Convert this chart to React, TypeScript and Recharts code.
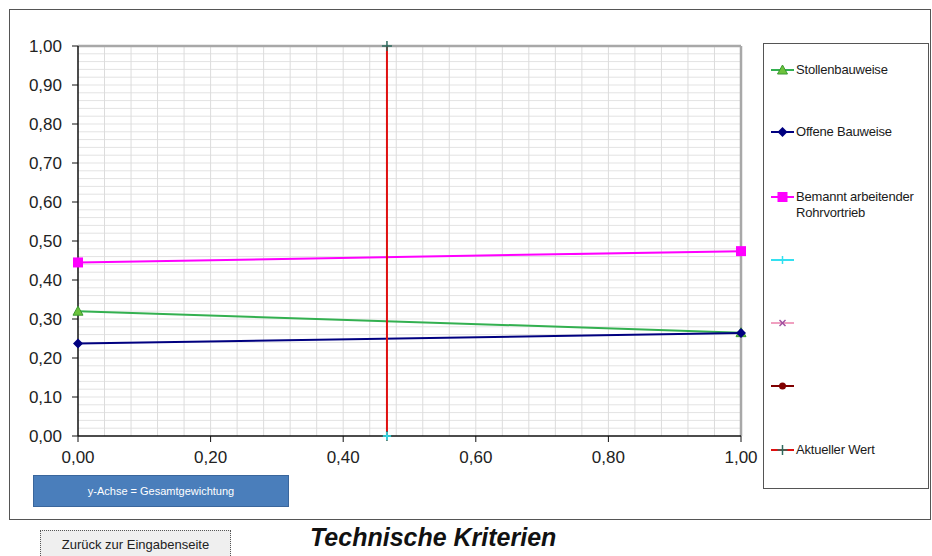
import React from "react";
import { Line, LineChart, ReferenceLine, XAxis, YAxis } from "recharts";

// Werte
const stollen = [
  { x: 0, y: 0.32 },
  { x: 1, y: 0.265 },
];
const offene = [
  { x: 0, y: 0.237 },
  { x: 1, y: 0.264 },
];
const bemannt = [
  { x: 0, y: 0.445 },
  { x: 1, y: 0.474 },
];
const hilfsPunkt = [{ x: 0.466, y: 0 }];
const aktuell = [
  { x: 0.466, y: 0 },
  { x: 0.466, y: 1 },
];

const xTicks = [0, 0.2, 0.4, 0.6, 0.8, 1];
const yTicks = [0, 0.1, 0.2, 0.3, 0.4, 0.5, 0.6, 0.7, 0.8, 0.9, 1];
const xMinor = [
  0.04, 0.08, 0.12, 0.16, 0.2, 0.24, 0.28, 0.32, 0.36, 0.4, 0.44, 0.48,
  0.52, 0.56, 0.6, 0.64, 0.68, 0.72, 0.76, 0.8, 0.84, 0.88, 0.92, 0.96,
];
const yMinor = [
  0.02, 0.04, 0.06, 0.08, 0.1, 0.12, 0.14, 0.16, 0.18, 0.2, 0.22, 0.24,
  0.26, 0.28, 0.3, 0.32, 0.34, 0.36, 0.38, 0.4, 0.42, 0.44, 0.46, 0.48, 0.5,
  0.52, 0.54, 0.56, 0.58, 0.6, 0.62, 0.64, 0.66, 0.68, 0.7, 0.72, 0.74, 0.76,
  0.78, 0.8, 0.82, 0.84, 0.86, 0.88, 0.9, 0.92, 0.94, 0.96, 0.98,
];

const legendItems = [
  { name: "Stollenbauweise", color: "#33b050", marker: "triangle", y: 69 },
  { name: "Offene Bauweise", color: "#000080", marker: "diamond", y: 131 },
  { name: "Bemannt arbeitender", name2: "Rohrvortrieb", color: "#ff00ff", marker: "square", y: 196 },
  { name: "", color: "#33e0f0", marker: "star", y: 259 },
  { name: "", color: "#f0a0c0", marker: "x", y: 322 },
  { name: "", color: "#800000", marker: "circle", y: 385 },
  { name: "Aktueller Wert", color: "#e01010", marker: "plus", y: 449 },
];

const FONT = "'Liberation Sans', Arial, sans-serif";
const fmt = (v: number) => v.toFixed(2).replace(".", ",");

function Marker({ kind, cx, cy }: { kind: string; cx: number; cy: number }) {
  switch (kind) {
    case "triangle":
      return (
        <polygon
          points={`${cx},${cy - 5} ${cx + 5},${cy + 4} ${cx - 5},${cy + 4}`}
          fill="#6cc23c"
          stroke="#3a9a30"
          strokeWidth={1}
        />
      );
    case "diamond":
      return (
        <polygon
          points={`${cx},${cy - 5} ${cx + 5},${cy} ${cx},${cy + 5} ${cx - 5},${cy}`}
          fill="#000080"
        />
      );
    case "square":
      return <rect x={cx - 5} y={cy - 5} width={10} height={10} fill="#ff00ff" />;
    case "star":
      return (
        <g stroke="#33e0f0" strokeWidth={1.5}>
          <line x1={cx - 4} y1={cy} x2={cx + 4} y2={cy} />
          <line x1={cx} y1={cy - 4} x2={cx} y2={cy + 4} />
        </g>
      );
    case "x":
      return (
        <g stroke="#a050a0" strokeWidth={1.5}>
          <line x1={cx - 3} y1={cy - 3} x2={cx + 3} y2={cy + 3} />
          <line x1={cx - 3} y1={cy + 3} x2={cx + 3} y2={cy - 3} />
        </g>
      );
    case "circle":
      return <circle cx={cx} cy={cy} r={3.5} fill="#800000" />;
    case "plus":
      return (
        <g stroke="#2e6b5e" strokeWidth={1.5}>
          <line x1={cx - 5} y1={cy} x2={cx + 5} y2={cy} />
          <line x1={cx} y1={cy - 5} x2={cx} y2={cy + 5} />
        </g>
      );
    default:
      return null;
  }
}

const dotOf = (kind: string) => (p: any) => {
  if (p.cx == null || p.cy == null) return <g key={p.index} />;
  return (
    <g key={`${kind}-${p.index}`}>
      <Marker kind={kind} cx={p.cx} cy={p.cy} />
    </g>
  );
};

function ChartLegend() {
  return (
    <div
      style={{
        position: "absolute",
        left: 763,
        top: 43,
        width: 164,
        height: 444,
        border: "1.5px solid #555",
        background: "#fff",
        fontFamily: FONT,
        fontSize: 13,
        color: "#1a1a1a",
      }}
    >
      {legendItems.map((it) => (
        <div
          key={it.name + it.y}
          style={{ position: "absolute", left: 6, top: it.y - 43 - 8, whiteSpace: "nowrap" }}
        >
          <svg width={26} height={16} style={{ verticalAlign: "top" }}>
            <line x1={1} y1={8} x2={24} y2={8} stroke={it.color} strokeWidth={2} />
            <Marker kind={it.marker} cx={12.5} cy={8} />
          </svg>
          <span style={{ position: "absolute", left: 26, top: 0, lineHeight: "16px", letterSpacing: -0.2 }}>
            {it.name}
            {it.name2 ? <br /> : null}
            {it.name2}
          </span>
        </div>
      ))}
    </div>
  );
}

export default function App() {
  return (
    <div
      style={{
        position: "absolute",
        left: 0,
        top: 0,
        width: 932,
        height: 556,
        background: "#fff",
        fontFamily: FONT,
        overflow: "hidden",
      }}
    >
      <div
        style={{
          position: "absolute",
          left: 9,
          top: 9,
          width: 920,
          height: 509,
          border: "1.5px solid #555",
        }}
      />
      <div style={{ position: "absolute", left: 0, top: 0 }}>
        <LineChart
          width={932}
          height={500}
          margin={{ top: 46, right: 191, bottom: 24, left: 0 }}
        >
          <XAxis
            type="number"
            dataKey="x"
            domain={[0, 1]}
            ticks={xTicks}
            tickFormatter={fmt}
            height={40}
            tickSize={6}
            tickMargin={9}
            tick={{ fontSize: 17, fill: "#222", fontFamily: FONT }}
            axisLine={{ stroke: "#111", strokeWidth: 1.5 }}
            tickLine={{ stroke: "#111" }}
          />
          <YAxis
            type="number"
            domain={[0, 1]}
            ticks={yTicks}
            tickFormatter={fmt}
            width={78}
            tickSize={6}
            tickMargin={10}
            tick={{ fontSize: 17, fill: "#222", fontFamily: FONT }}
            axisLine={{ stroke: "#111", strokeWidth: 1.5 }}
            tickLine={{ stroke: "#111" }}
          />
          {yMinor.map((v) => (
            <ReferenceLine key={`h${v}`} y={v} stroke="#e3e3e3" strokeWidth={1} />
          ))}
          {xMinor.map((v) => (
            <ReferenceLine key={`v${v}`} x={v} stroke="#dcdcdc" strokeWidth={1} />
          ))}
          <ReferenceLine y={1} stroke="#a8a8a8" strokeWidth={2.5} />
          <ReferenceLine x={1} stroke="#a8a8a8" strokeWidth={2.5} />
          <Line
            data={stollen}
            dataKey="y"
            name="Stollenbauweise"
            stroke="#33b050"
            strokeWidth={2}
            dot={dotOf("triangle")}
            isAnimationActive={false}
          />
          <Line
            data={offene}
            dataKey="y"
            name="Offene Bauweise"
            stroke="#000080"
            strokeWidth={2}
            dot={dotOf("diamond")}
            isAnimationActive={false}
          />
          <Line
            data={bemannt}
            dataKey="y"
            name="Bemannt arbeitender Rohrvortrieb"
            stroke="#ff00ff"
            strokeWidth={2}
            dot={dotOf("square")}
            isAnimationActive={false}
          />
          <Line
            data={aktuell}
            dataKey="y"
            name="Aktueller Wert"
            stroke="#e01010"
            strokeWidth={2}
            dot={dotOf("plus")}
            isAnimationActive={false}
          />
          <Line
            data={hilfsPunkt}
            dataKey="y"
            name=" "
            stroke="#33e0f0"
            dot={dotOf("star")}
            isAnimationActive={false}
          />
        </LineChart>
      </div>
      <ChartLegend />
      <div
        style={{
          position: "absolute",
          left: 33,
          top: 475,
          width: 254,
          height: 30,
          background: "#4a7ebb",
          border: "1px solid #3a669c",
          color: "#fff",
          fontSize: 11,
          lineHeight: "30px",
          textAlign: "center",
        }}
      >
        y-Achse = Gesamtgewichtung
      </div>
      <div
        style={{
          position: "absolute",
          left: 40,
          top: 530,
          width: 189,
          height: 28,
          background: "#efefef",
          border: "1px dotted #555",
          color: "#222",
          fontSize: 13,
          lineHeight: "27px",
          textAlign: "center",
        }}
      >
        Zurück zur Eingabenseite
      </div>
      <div
        style={{
          position: "absolute",
          left: 310,
          top: 523,
          fontSize: 25,
          fontWeight: "bold",
          fontStyle: "italic",
          color: "#111",
          whiteSpace: "nowrap",
        }}
      >
        Technische Kriterien
      </div>
    </div>
  );
}
